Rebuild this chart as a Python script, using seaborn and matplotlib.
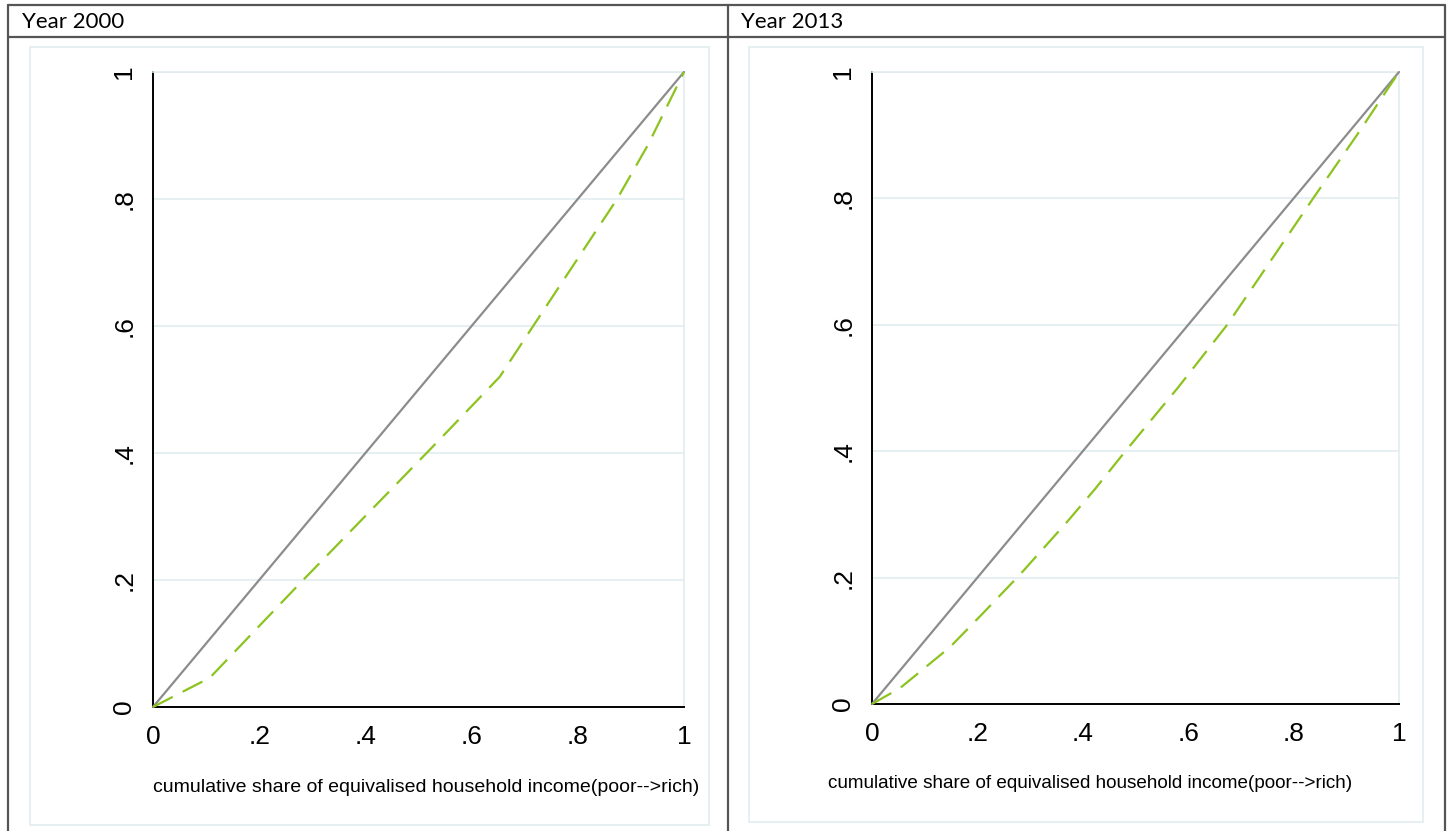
import numpy as np
import pandas as pd
import matplotlib
matplotlib.use("Agg")
import matplotlib.pyplot as plt
import seaborn as sns
from matplotlib.patches import Rectangle
from matplotlib.lines import Line2D

# ---------------- data ----------------
panel_titles = ["Year 2000", "Year 2013"]
x_label = "cumulative share of equivalised household income(poor-->rich)"
tick_values = [0, 0.2, 0.4, 0.6, 0.8, 1]
tick_labels = ["0", ".2", ".4", ".6", ".8", "1"]

equality_x = [0, 1]
equality_y = [0, 1]

share_2000 = [0, 0.107, 0.277, 0.535, 0.653, 0.716, 0.874, 0.932, 1]
lorenz_2000 = [0, 0.046, 0.195, 0.417, 0.52, 0.60, 0.80, 0.885, 1]

share_2013 = [0, 0.053, 0.148, 0.211, 0.281, 0.37, 0.423, 0.476, 0.58, 0.674, 0.837, 0.92, 1]
lorenz_2013 = [0, 0.025, 0.09, 0.144, 0.205, 0.288, 0.340, 0.395, 0.50, 0.60, 0.80, 0.90, 1]

# ---------------- style ----------------
sns.set_style("white")
plt.rcParams["font.family"] = ["Liberation Sans", "DejaVu Sans"]

W, H = 1448, 831
fig = plt.figure(figsize=(W / 100, H / 100), dpi=100)
fig.patch.set_facecolor("white")


def fx(px):
    return px / W


def fy(py):
    return 1 - py / H


# table borders
tcol = "#555555"
for (x0, y0, x1, y1) in [(8, 5, 1445, 5), (8, 37, 1445, 37), (8, 5, 8, 831),
                         (728, 5, 728, 831), (1445, 5, 1445, 831)]:
    fig.add_artist(Line2D([fx(x0), fx(x1)], [fy(y0), fy(y1)], color=tcol, lw=1.6,
                          transform=fig.transFigure))

# header text
fig.text(fx(22), fy(22), panel_titles[0], family=["Lato", "DejaVu Sans"], fontsize=16,
         ha="left", va="center", color="black")
fig.text(fx(741), fy(22), panel_titles[1], family=["Lato", "DejaVu Sans"], fontsize=16,
         ha="left", va="center", color="black")

# plot region boxes
light = "#E1ECEF"
for (x0, y0, x1, y1) in [(30, 47, 709, 825), (749, 47, 1423, 822)]:
    fig.add_artist(Rectangle((fx(x0), fy(y1)), fx(x1) - fx(x0), fy(y0) - fy(y1),
                             fill=False, edgecolor=light, lw=1.2,
                             transform=fig.transFigure))

panels = [
    dict(rect=(153, 72, 684, 707), x=share_2000, y=lorenz_2000, xl=(0.514, -0.126), fs=14),
    dict(rect=(872, 72, 1399, 704), x=share_2013, y=lorenz_2013, xl=(0.414, -0.125), fs=13.6),
]

for p in panels:
    x0, y0, x1, y1 = p["rect"]
    ax = fig.add_axes([fx(x0), fy(y1), fx(x1) - fx(x0), fy(y0) - fy(y1)])
    ax.set_facecolor("white")
    sns.lineplot(x=equality_x, y=equality_y, color="#8c8c8c", lw=1.6, ax=ax,
                 clip_on=False, zorder=3)
    sns.lineplot(x=p["x"], y=p["y"], color="#8cc31f", lw=1.6, ax=ax,
                 linestyle=(0, (10, 5)), clip_on=False, zorder=4)
    ax.set_xlim(0, 1)
    ax.set_ylim(0, 1)
    ax.set_xticks(tick_values)
    ax.set_xticklabels(tick_labels)
    ax.set_yticks(tick_values)
    ax.set_yticklabels(tick_labels, rotation=90, va="center")
    ax.yaxis.grid(True, color=light, lw=1.2)
    ax.xaxis.grid(False)
    ax.set_axisbelow(True)
    for s in ["left", "bottom"]:
        ax.spines[s].set_color("black")
        ax.spines[s].set_linewidth(1.4)
    for s in ["top", "right"]:
        ax.spines[s].set_color(light)
        ax.spines[s].set_linewidth(1.2)
    ax.tick_params(axis="both", direction="out", length=8, width=1.4, color="black",
                   labelsize=19, labelcolor="black")
    ax.tick_params(axis="x", pad=5)
    ax.tick_params(axis="y", pad=4)
    ax.set_xlabel("")
    ax.set_ylabel("")
    ax.text(p["xl"][0], p["xl"][1], x_label, transform=ax.transAxes, ha="center",
            va="center", fontsize=p["fs"], color="black")

fig.savefig("out.png", dpi=100, facecolor="white")
